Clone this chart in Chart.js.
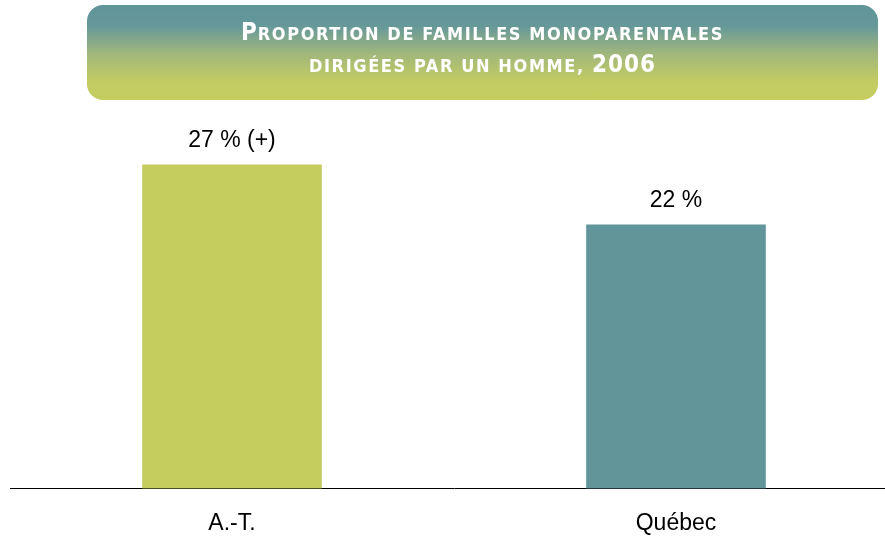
<!DOCTYPE html>
<html>
<head>
<meta charset="utf-8">
<script src="https://cdn.jsdelivr.net/npm/chart.js@4/dist/chart.umd.min.js"></script>
<style>
  html, body {
    margin: 0;
    padding: 0;
    background: #fff;
    overflow: hidden;
    width: 885px;
    height: 538px;
  }
  #wrap {
    position: absolute;
    left: 0;
    top: 0;
    width: 910px;
    height: 558px;
  }
  .banner {
    position: absolute;
    left: 87px;
    top: 5px;
    width: 791px;
    height: 95px;
    border-radius: 16px;
    background: linear-gradient(to bottom, #5f9499 0%, #66989a 22%, #a2b87b 52%, #c2cb62 80%, #c5cd5f 100%);
    color: #fff;
    font-family: "DejaVu Sans Condensed", "DejaVu Sans", sans-serif;
    font-weight: bold;
    text-align: center;
  }
  .line {
    position: absolute;
    left: 0;
    right: 0;
    height: 30px;
    line-height: 30px;
    white-space: nowrap;
  }
  .l1 { top: 12px; }
  .l2 { top: 44px; }
  .big { font-size: 24px; letter-spacing: 1px; }
  .sc { font-size: 18px; letter-spacing: 1.6px; }
</style>
</head>
<body>
<div id="wrap"><canvas id="chart" width="910" height="558"></canvas></div>
<div class="banner">
  <div class="line l1"><span class="big">P</span><span class="sc">ROPORTION DE FAMILLES MONOPARENTALES</span></div>
  <div class="line l2"><span class="sc">DIRIGÉES PAR UN HOMME, </span><span class="big">2006</span></div>
</div>
<script>
const categories = ['A.-T.', 'Québec'];
const values = [27, 22];
const valueLabels = ['27 % (+)', '22 %'];
const barColors = ['#c5cd5f', '#62959a'];
const yMax = 32;

// writes the value above each bar
const valueLabelPlugin = {
  id: 'valueLabels',
  afterDatasetsDraw(chart) {
    const ctx = chart.ctx;
    const meta = chart.getDatasetMeta(0);
    ctx.save();
    ctx.fillStyle = '#000';
    ctx.font = '23px "Liberation Sans", Arial, sans-serif';
    ctx.textAlign = 'center';
    ctx.textBaseline = 'alphabetic';
    meta.data.forEach((bar, i) => {
      ctx.fillText(valueLabels[i], bar.x, bar.y - 18);
    });
    ctx.restore();
  }
};

new Chart(document.getElementById('chart'), {
  type: 'bar',
  data: {
    labels: categories,
    datasets: [{
      data: values,
      backgroundColor: barColors,
      borderWidth: 0,
      barThickness: 179,
    }],
  },
  options: {
    responsive: false,
    animation: false,
    layout: {
      padding: { left: 10, right: 12, top: 105, bottom: 0 },
    },
    plugins: {
      legend: { display: false },
      tooltip: { enabled: false },
    },
    scales: {
      x: {
        grid: { display: false, drawTicks: false },
        border: { display: true, color: '#000', width: 1 },
        ticks: {
          color: '#000',
          padding: 21,
          font: { family: '"Liberation Sans", Arial, sans-serif', size: 23 },
        },
      },
      y: {
        display: false,
        min: 0,
        max: yMax,
      },
    },
  },
  plugins: [valueLabelPlugin],
});
</script>
</body>
</html>
